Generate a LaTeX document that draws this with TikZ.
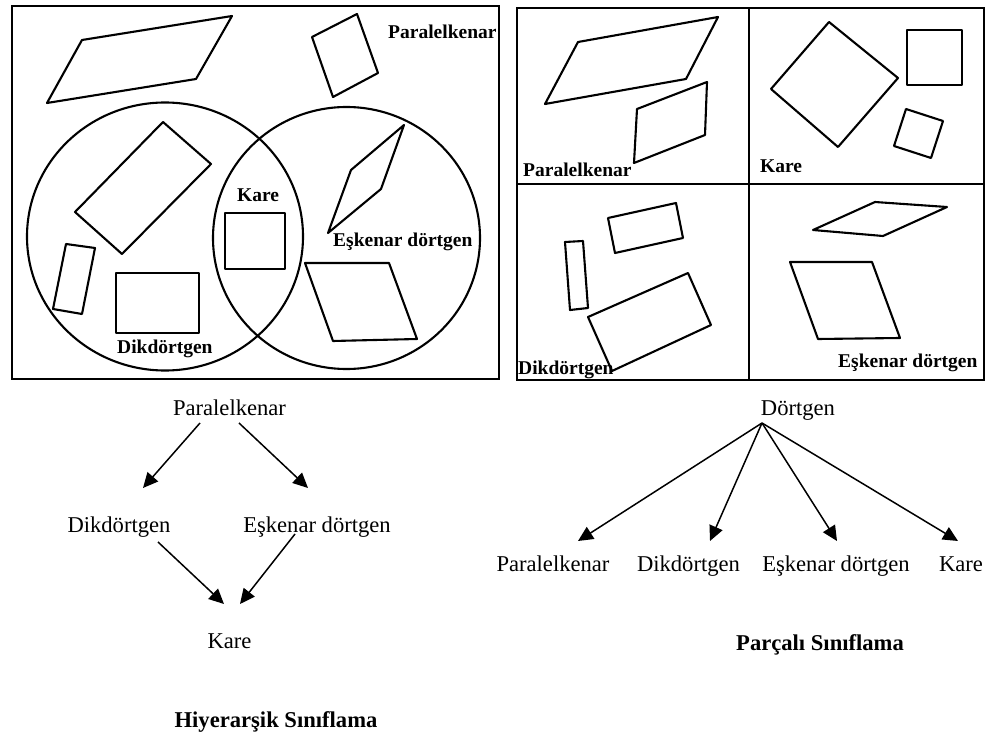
\documentclass[tikz,border=0pt]{standalone}
\usepackage{fontspec}
\setmainfont{Liberation Serif}
\usetikzlibrary{arrows.meta}
\begin{document}
\begin{tikzpicture}[x=1pt,y=-1pt,
  fig/.style={line width=2.1pt, line join=round},
  boxline/.style={line width=2.1pt},
  lbl/.style={font=\fontsize{19.5}{22}\selectfont\bfseries, anchor=base west, inner sep=0pt},
  txt/.style={font=\fontsize{22.6}{27}\selectfont, anchor=base, inner sep=0pt},
  ttl/.style={font=\fontsize{22.6}{27}\selectfont\bfseries, anchor=base, inner sep=0pt},
  arr/.style={line width=1.5pt, -{Triangle[length=15pt,width=14pt]}}]
\useasboundingbox (0,0) rectangle (985,735);

% ---------- Left panel: Venn-type view ----------
\draw[boxline] (12,6) rectangle (499,379);
\draw[fig] (165,236.5) ellipse [x radius=138, y radius=134];
\draw[fig] (346.5,238) ellipse [x radius=133.5, y radius=131];

\draw[fig] (47,103) -- (82,40) -- (232,16) -- (196,79) -- cycle;
\draw[fig] (312,37) -- (357,14) -- (378,73) -- (333,97) -- cycle;
\draw[fig] (163,122) -- (211,164) -- (122,254) -- (75,212) -- cycle;
\draw[fig] (66,244) -- (95,248) -- (82,314) -- (53,309) -- cycle;
\draw[fig] (116,273) rectangle (199,333);
\draw[fig] (225,213) rectangle (285,269);
\draw[fig] (404,125) -- (381,189) -- (328,233) -- (351,170) -- cycle;
\draw[fig] (305,263) -- (389,263) -- (417,339) -- (333,341) -- cycle;

\node[lbl] (lpar) at (388,39) {Paralelkenar};
\node[lbl] (lkar) at (237,202) {Kare};
\node[lbl] (lesk) at (333,247) {Eşkenar dörtgen};
\node[lbl] (ldik) at (117,353) {Dikdörtgen};

% ---------- Right panel: four separate classes ----------
\draw[boxline] (517,8) rectangle (984,380);
\draw[boxline] (749,8) -- (749,380);
\draw[boxline] (517,184) -- (984,184);

\draw[fig] (545,104) -- (578,42) -- (718,17) -- (686,79) -- cycle;
\draw[fig] (637,109) -- (707,82) -- (705,135) -- (634,163) -- cycle;
\draw[fig] (829,22) -- (898,78) -- (838,147) -- (771,89) -- cycle;
\draw[fig] (907,30) rectangle (962,85);
\draw[fig] (906,109) -- (943,121) -- (931,158) -- (894,146) -- cycle;
\draw[fig] (608,218) -- (676,203) -- (683,238) -- (615,253) -- cycle;
\draw[fig] (565,242) -- (583,241) -- (588,308) -- (570,310) -- cycle;
\draw[fig] (588,317) -- (688,273) -- (711,325) -- (612,371) -- cycle;
\draw[fig] (813,230) -- (875,202) -- (947,207) -- (883,236) -- cycle;
\draw[fig] (790,262) -- (872,262) -- (900,338) -- (818,339) -- cycle;

\node[lbl] (rpar) at (523,177) {Paralelkenar};
\node[lbl] (rkar) at (760,173) {Kare};
\node[lbl] (rdik) at (518,374) {Dikdörtgen};
\node[lbl] (resk) at (838,367) {Eşkenar dörtgen};

% ---------- Hierarchical tree ----------
\node[txt] (hp) at (229.5,415) {Paralelkenar};
\node[txt] (hd) at (119,532) {Dikdörtgen};
\node[txt] (he) at (317,532) {Eşkenar dörtgen};
\node[txt] (hk) at (229.5,648) {Kare};
\node[ttl] (ht) at (276,727) {Hiyerarşik Sınıflama};

\draw[arr] ([shift={(-29.5,8)}]hp.base) -- ([shift={(24,-44)}]hd.base);
\draw[arr] ([shift={(9.5,8)}]hp.base) -- ([shift={(-9,-44)}]he.base);
\draw[arr] ([shift={(39,10)}]hd.base) -- ([shift={(-5.5,-44)}]hk.base);
\draw[arr] ([shift={(-22,2)}]he.base) -- ([shift={(10.5,-44)}]hk.base);

% ---------- Partitioned tree ----------
\node[txt] (pd) at (798,415) {Dörtgen};
\node[txt] (pp) at (553,571) {Paralelkenar};
\node[txt] (pk2) at (688.5,571) {Dikdörtgen};
\node[txt] (pe) at (836,571) {Eşkenar dörtgen};
\node[txt] (pk) at (961,571) {Kare};
\node[ttl] (pt) at (820,650) {Parçalı Sınıflama};

\draw[arr] ([shift={(-36,8)}]pd.base) -- ([shift={(25,-30)}]pp.base);
\draw[arr] ([shift={(-36,8)}]pd.base) -- ([shift={(21.5,-30)}]pk2.base);
\draw[arr] ([shift={(-36,8)}]pd.base) -- ([shift={(1,-30)}]pe.base);
\draw[arr] ([shift={(-36,8)}]pd.base) -- ([shift={(-3,-30)}]pk.base);
\end{tikzpicture}
\end{document}
